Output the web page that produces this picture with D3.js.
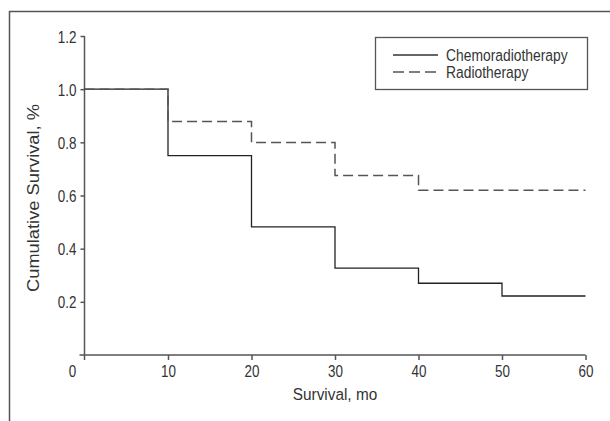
<!DOCTYPE html>
<html><head><meta charset="utf-8">
<script src="https://cdn.jsdelivr.net/npm/d3@7/dist/d3.min.js"></script>
<style>body{margin:0;background:#fff}svg{display:block}text{font-family:"Liberation Sans",Arial,sans-serif;fill:#333}</style>
</head><body><svg id="c" width="610" height="421"></svg>
<script>
const months = [0, 10, 20, 30, 40, 50, 60];
const chemoradiotherapy = [1.0, 0.75, 0.482, 0.327, 0.27, 0.222, 0.222];
const radiotherapy = [1.0, 0.878, 0.799, 0.675, 0.62, 0.62, 0.62];
const xTicks = [0, 10, 20, 30, 40, 50, 60];
const yTicks = [0.2, 0.4, 0.6, 0.8, 1.0, 1.2];
const seriesNames = ["Chemoradiotherapy", "Radiotherapy"];

const SX = 0.84; // horizontal squeeze to mimic a condensed face
const svg = d3.select("#c");
const x = d3.scaleLinear().domain([0, 60]).range([84.5, 585.5]);
const y = d3.scaleLinear().domain([0, 1.2]).range([355, 36]);
const axisColor = "#555";

// frame
svg.append("path").attr("d", "M9.5,421V11.5H610").attr("fill", "none").attr("stroke", axisColor).attr("stroke-width", 1.5);

// x axis
const gx = svg.append("g").attr("transform", `translate(0,${y(0)})`)
  .call(d3.axisBottom(x).tickValues(xTicks.slice(1)).tickSize(5).tickSizeOuter(0).tickFormat(d3.format("d")));
gx.select(".domain").attr("d", `M${x(0)-5},0H${x(60)}`);
// y axis
const gy = svg.append("g").attr("transform", `translate(${x(0)},0)`)
  .call(d3.axisLeft(y).tickValues(yTicks).tickSize(4).tickSizeOuter(0).tickFormat(d3.format(".1f")));
gy.select(".domain").attr("d", `M0,${y(1.2)}V${y(0)+5}`);
[gx, gy].forEach(g => {
  g.selectAll(".domain").attr("stroke", axisColor).attr("stroke-width", 1.5);
  g.selectAll(".tick line").attr("stroke", axisColor).attr("stroke-width", 1.5);
  g.selectAll("text").attr("font-size", 16).attr("fill", "#333").attr("font-family", "Liberation Sans, Arial, sans-serif");
});
gx.selectAll(".tick text").attr("x", null).attr("y", null).attr("dy", null)
  .attr("transform", `translate(0,22) scale(${SX},1)`);
gy.selectAll(".tick text").attr("x", null).attr("dy", null)
  .attr("transform", `translate(-8,6) scale(${SX},1)`);
// single "0" label at origin
svg.append("text").attr("text-anchor", "middle").attr("font-size", 16)
  .attr("transform", `translate(${x(0) - 12},${y(0) + 22}) scale(${SX},1)`).text("0");

// lines
const line = d3.line().x(d => x(d[0])).y(d => y(d[1])).curve(d3.curveStepAfter);
svg.append("path").datum(months.map((m, i) => [m, chemoradiotherapy[i]]))
  .attr("d", line).attr("fill", "none").attr("stroke", "#222").attr("stroke-width", 1.3);
svg.append("path").datum(months.map((m, i) => [m, radiotherapy[i]]))
  .attr("d", line).attr("fill", "none").attr("stroke", "#555").attr("stroke-width", 1.5).attr("stroke-dasharray", "10,5");

// axis titles
svg.append("text").attr("text-anchor", "middle").attr("font-size", 16.5)
  .attr("transform", `translate(${x(30)},400) scale(0.93,1)`).text("Survival, mo");
svg.append("text").attr("transform", `translate(39,198) rotate(-90)`).attr("text-anchor", "middle").attr("font-size", 16)
  .attr("textLength", 188).attr("lengthAdjust", "spacingAndGlyphs").text("Cumulative Survival, %");

// legend
const lg = svg.append("g");
lg.append("rect").attr("x", 375.5).attr("y", 37.5).attr("width", 212).attr("height", 52).attr("fill", "#fff").attr("stroke", axisColor).attr("stroke-width", 1.3);
const rows = [{n: seriesNames[0], dash: null, c: "#333"}, {n: seriesNames[1], dash: "11,5", c: "#555"}];
rows.forEach((r, i) => {
  const yy = 55 + i * 17;
  lg.append("line").attr("x1", 393).attr("x2", 438).attr("y1", yy).attr("y2", yy).attr("stroke", r.c).attr("stroke-width", 1.3).attr("stroke-dasharray", r.dash);
  lg.append("text").attr("font-size", 16.5).attr("transform", `translate(446,${yy + 6}) scale(${SX},1)`).text(r.n);
});
</script></body></html>
